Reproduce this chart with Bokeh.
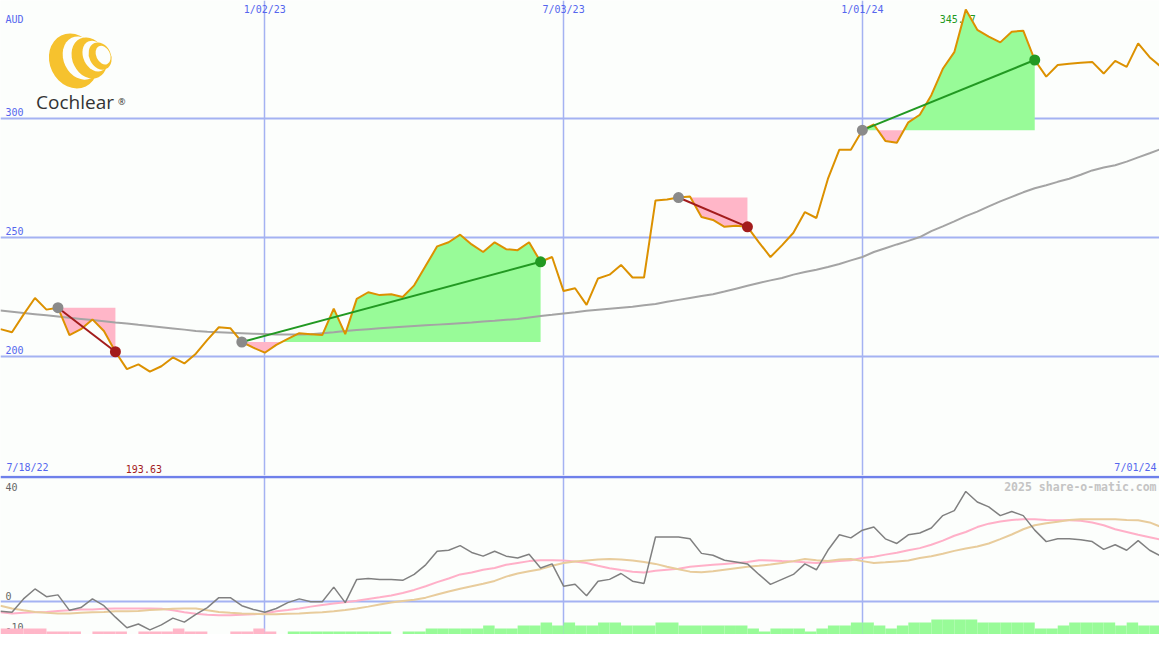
from datetime import datetime, timezone
import numpy as np
from bokeh.plotting import figure
from bokeh.models import Range1d, Grid, FixedTicker, Span
from bokeh.layouts import column
from bokeh.embed import file_html
from bokeh.resources import INLINE
from bokeh.core.properties import value

# ---------------- data ----------------
start_date = "2022-07-25"          # first weekly sample
end_date = "2024-06-30"            # right edge of the chart
currency = "AUD"
company = "Cochlear"
first_label = "7/18/22"
last_label = "7/01/24"
watermark = "2025 share-o-matic.com"

price = [211.5, 210.2, 217.6, 224.6, 219.7, 220.5, 209.0, 211.5, 215.6, 210.7,
         202.0, 194.7, 196.7, 193.63, 195.9, 199.6, 197.1, 201.2, 207.0, 212.3,
         211.9, 206.1, 203.7, 201.6, 204.9, 207.4, 209.8, 209.4, 209.0, 220.1,
         209.4, 224.2, 227.0, 225.8, 226.2, 225.0, 229.9, 238.1, 246.3, 248.0,
         251.2, 247.1, 243.9, 248.0, 245.1, 244.7, 248.0, 239.8, 241.8, 227.5,
         228.7, 221.7, 232.8, 234.4, 238.5, 233.2, 233.2, 265.6, 266.0, 266.8,
         267.2, 258.6, 257.4, 254.5, 254.9, 254.5, 248.0, 241.8, 246.7, 252.0,
         260.7, 258.2, 274.6, 286.9, 286.9, 295.1, 297.5, 290.6, 289.8, 298.4,
         301.6, 309.8, 320.9, 327.9, 345.77, 337.3, 334.4, 332.0, 336.5, 336.9,
         324.6, 317.6, 322.5, 323.0, 323.4, 323.8, 318.9, 324.2, 321.7, 331.6,
         325.8, 321.7]

ma40 = [219.3, 218.8, 218.3, 217.8, 217.3, 216.8, 216.3, 215.8, 215.3, 214.8,
        214.3, 213.9, 213.3, 212.8, 212.3, 211.8, 211.3, 210.7, 210.4, 210.2,
        210.0, 209.8, 209.6, 209.5, 209.3, 209.2, 209.2, 209.4, 209.8, 210.2,
        210.7, 211.1, 211.5, 211.9, 212.2, 212.5, 212.8, 213.1, 213.4, 213.7,
        214.0, 214.3, 214.7, 215.0, 215.4, 215.8, 216.4, 217.0, 217.5, 218.1,
        218.6, 219.2, 219.7, 220.1, 220.5, 220.9, 221.5, 222.1, 223.0, 223.8,
        224.6, 225.4, 226.2, 227.3, 228.5, 229.7, 230.9, 232.0, 233.0, 234.4,
        235.5, 236.5, 237.6, 238.9, 240.4, 241.8, 243.9, 245.5, 247.1, 248.6,
        250.2, 252.7, 254.7, 256.8, 259.0, 260.9, 263.1, 265.2, 267.1, 269.0,
        270.7, 272.0, 273.4, 274.7, 276.4, 278.2, 279.4, 280.4, 281.9, 283.7,
        285.4, 287.2]

momentum = [-3.1, -3.4, 0.9, 4.1, 1.6, 2.2, -2.8, -1.9, 0.9, -1.3,
            -5.0, -8.4, -7.2, -9.1, -7.5, -5.3, -6.6, -4.1, -1.9, 1.3,
            1.3, -1.3, -2.5, -3.4, -2.2, -0.3, 0.9, 0.0, 0.0, 4.7,
            -0.3, 7.2, 7.5, 7.2, 7.2, 6.9, 8.8, 11.9, 16.3, 16.6,
            18.1, 15.9, 14.7, 16.3, 14.7, 14.1, 15.3, 10.9, 12.2, 5.0,
            5.6, 1.9, 6.6, 7.2, 9.1, 6.6, 5.9, 20.9, 20.9, 20.9,
            20.3, 15.6, 15.0, 13.4, 12.8, 12.2, 8.8, 5.6, 7.2, 8.8,
            12.2, 10.3, 16.6, 21.6, 20.6, 23.1, 24.1, 20.3, 18.8, 21.6,
            22.2, 23.8, 27.8, 29.4, 35.6, 32.2, 30.6, 27.8, 29.1, 27.8,
            23.1, 19.4, 20.3, 20.3, 20.0, 19.4, 16.9, 18.4, 16.6, 19.7,
            16.6, 14.7]

mom_fast = [-3.4, -3.8, -3.6, -3.4, -3.3, -3.0, -2.8, -2.5, -2.5, -2.3,
            -2.2, -2.2, -2.2, -2.2, -2.3, -2.8, -3.4, -3.9, -4.2, -4.4,
            -4.4, -4.2, -4.1, -3.8, -3.1, -2.7, -2.2, -1.6, -1.1, -0.6,
            -0.2, 0.3, 0.9, 1.4, 2.0, 2.8, 3.8, 5.0, 6.3, 7.5,
            8.8, 9.4, 10.3, 10.9, 11.9, 12.5, 13.1, 13.4, 13.4, 13.3,
            13.0, 12.5, 11.6, 10.8, 10.2, 9.7, 9.4, 10.0, 10.3, 10.6,
            11.3, 11.6, 11.9, 12.2, 12.5, 12.8, 13.4, 13.3, 13.1, 13.0,
            12.7, 12.5, 12.8, 13.1, 13.4, 14.1, 14.5, 15.2, 15.8, 16.6,
            17.3, 18.4, 19.7, 21.3, 22.5, 24.1, 25.2, 25.9, 26.4, 26.6,
            26.6, 26.4, 26.3, 26.3, 26.1, 25.6, 24.7, 23.4, 22.5, 21.6,
            20.8, 20.0]

mom_slow = [-1.3, -2.2, -2.8, -3.3, -3.6, -3.8, -3.8, -3.6, -3.4, -3.3,
            -3.1, -3.1, -3.0, -2.7, -2.5, -2.3, -2.2, -2.2, -2.8, -3.3,
            -3.6, -3.8, -3.9, -4.1, -4.1, -3.9, -3.8, -3.6, -3.4, -3.1,
            -2.7, -2.2, -1.6, -0.9, -0.3, 0.2, 0.6, 1.3, 2.3, 3.3,
            4.2, 5.0, 5.8, 6.7, 8.1, 9.1, 9.8, 10.5, 11.6, 12.5,
            13.0, 13.3, 13.6, 13.8, 13.6, 13.3, 12.8, 12.2, 11.3, 10.5,
            9.7, 9.5, 9.8, 10.3, 10.8, 11.3, 11.6, 12.0, 12.5, 13.1,
            13.8, 13.4, 13.1, 13.6, 13.8, 13.1, 12.5, 12.7, 13.0, 13.3,
            14.1, 14.7, 15.5, 16.4, 17.2, 17.8, 18.8, 20.2, 21.7, 23.4,
            24.7, 25.3, 25.8, 26.4, 26.6, 26.6, 26.6, 26.6, 26.4, 26.3,
            25.6, 24.1]

# weekly signal strength (negative = bearish/pink, positive = bullish/green)
signal = [-2, -2, -2, -2, -1, -1, -1, 0, -1, -1,
          -1, 0, -1, -1, -1, -2, -1, -1, 0, 0,
          -1, -1, -2, -1, 0, 1, 1, 1, 1, 1,
          1, 1, 1, 1, 0, 1, 1, 2, 2, 2,
          2, 2, 3, 2, 2, 3, 3, 4, 3, 4,
          3, 3, 4, 4, 3, 3, 3, 4, 4, 3,
          3, 3, 3, 3, 3, 2, 1, 2, 2, 2,
          1, 2, 3, 3, 4, 4, 3, 2, 3, 4,
          4, 5, 5, 5, 5, 4, 4, 4, 4, 4,
          2, 2, 3, 4, 4, 4, 4, 3, 4, 3,
          3, 3]

# trades: (entry week index, exit week index)
trades = [(5, 10), (21, 47), (59, 65), (75, 90)]

tick_dates = ["2023-01-02", "2023-07-03", "2024-01-01"]
tick_labels = ["1/02/23", "7/03/23", "1/01/24"]
price_ticks = [200, 250, 300]
osc_ticks = [0]
osc_labels = ["40", "0", "-10"]
osc_label_vals = [40.3, 0, -10]

# ---------------- styles ----------------
BG = "#fcfefc"
GRID = "#a4b2f2"
SEP = "#6e80ea"
LABEL = "#5566ee"
PRICE = "#dc9100"
MA = "#a4a4a4"
PINK = "#ffb6c8"
GREEN = "#98fb98"
WIN = "#229922"
LOSS = "#a31c1c"
ENTRY = "#8a8a8a"
MOM = "#808080"
FAST = "#ffb0c8"
SLOW = "#e8cc9c"
YELLOW = "#f6c22e"
MONO = value("DejaVu Sans Mono")

W = 1159
H1 = 475
H2 = 159


def ms(s):
    return datetime.fromisoformat(s).replace(tzinfo=timezone.utc).timestamp() * 1000.0


WEEK = 7 * 86400000.0
xs = [ms(start_date) + i * WEEK for i in range(len(price))]
x0, x1 = ms(start_date), ms(end_date)
tick_ms = [ms(d) for d in tick_dates]

ylo, yhi = 150.0, 349.6
xr = Range1d(x0, x1)

# ---------------- main panel ----------------
p = figure(width=W, height=H1, x_range=xr, y_range=Range1d(ylo, yhi),
           x_axis_type=None, y_axis_type=None, output_backend="svg",
           toolbar_location=None, min_border=0, background_fill_color=BG,
           border_fill_color=BG, outline_line_color=None)
p.extra_x_ranges = {"px": Range1d(0, 1175)}
p.extra_y_ranges = {"px": Range1d(487, 0)}

p.add_layout(Grid(dimension=0, ticker=FixedTicker(ticks=tick_ms),
                  grid_line_color=GRID, grid_line_width=1.5))
p.add_layout(Grid(dimension=1, ticker=FixedTicker(ticks=price_ticks),
                  grid_line_color=GRID, grid_line_width=2))

# logo (decoration)
rings = [((74, 62, 48, 58), (82, 59, 36, 46)),
         ((90, 59, 34, 44), (96, 57, 24, 33)),
         ((101, 57, 22, 29), (104, 56, 14, 20))]
for outer, inner in rings:
    p.ellipse(x=[outer[0]], y=[outer[1]], width=outer[2], height=outer[3], angle=0.45,
              fill_color=YELLOW, line_color=None, x_range_name="px", y_range_name="px")
    p.ellipse(x=[inner[0]], y=[inner[1]], width=inner[2], height=inner[3], angle=0.45,
              fill_color=BG, line_color=None, x_range_name="px", y_range_name="px")
p.text(x=[36], y=[104], text=[company], text_font=value("Open Sans"), text_font_size="19px",
       text_color="#333333", text_baseline="middle", x_range_name="px", y_range_name="px")
p.text(x=[119], y=[104], text=["\u00ae"], text_font=value("Open Sans"), text_font_size="9px",
       text_color="#333333", text_baseline="middle", x_range_name="px", y_range_name="px")

# labels
p.text(x=[x0], y=[yhi], text=[currency], x_offset=5, y_offset=13, text_font=MONO,
       text_font_size="10px", text_color=LABEL, text_baseline="top")
p.text(x=[x0] * len(price_ticks), y=price_ticks, text=[str(v) for v in price_ticks],
       x_offset=5, y_offset=-3, text_font=MONO, text_font_size="10px", text_color=LABEL,
       text_baseline="bottom")
p.text(x=tick_ms, y=[yhi] * len(tick_ms), text=tick_labels, y_offset=3, text_font=MONO,
       text_font_size="10px", text_color=LABEL, text_baseline="top", text_align="center")
p.text(x=[x0], y=[ylo], text=[first_label], x_offset=6, y_offset=-3, text_font=MONO,
       text_font_size="10px", text_color=LABEL, text_baseline="bottom")
p.text(x=[x1], y=[ylo], text=[last_label], x_offset=-3, y_offset=-3, text_font=MONO,
       text_font_size="10px", text_color=LABEL, text_baseline="bottom", text_align="right")

imin = int(np.argmin(price))
imax = int(np.argmax(price))
p.text(x=[xs[imin]], y=[ylo], text=[f"{price[imin]:.2f}"], x_offset=-6, y_offset=-3,
       text_font=MONO, text_font_size="10px", text_color=LOSS, text_baseline="bottom",
       text_align="center")
p.text(x=[xs[imax]], y=[yhi], text=[f"{price[imax]:.2f}"], x_offset=-8, y_offset=14,
       text_font=MONO, text_font_size="10px", text_color=WIN, text_baseline="top",
       text_align="center")

# trade fills
for a, b in trades:
    L = price[a]
    fx, fy = [], []
    for k in range(a, b + 1):
        if k > a:
            p0, p1 = price[k - 1], price[k]
            if (p0 - L) * (p1 - L) < 0:
                t = (L - p0) / (p1 - p0)
                fx.append(xs[k - 1] + t * (xs[k] - xs[k - 1]))
                fy.append(L)
        fx.append(xs[k])
        fy.append(price[k])
    fy = np.array(fy)
    lev = np.full(len(fy), L)
    p.varea(x=fx, y1=np.minimum(fy, L), y2=lev, fill_color=PINK)
    p.varea(x=fx, y1=lev, y2=np.maximum(fy, L), fill_color=GREEN)

p.line(xs, ma40, line_color=MA, line_width=2)
p.line(xs, price, line_color=PRICE, line_width=2)

for a, b in trades:
    col = WIN if price[b] > price[a] else LOSS
    p.line([xs[a], xs[b]], [price[a], price[b]], line_color=col, line_width=2)
    p.scatter([xs[a]], [price[a]], size=11, fill_color=ENTRY, line_color=None)
    p.scatter([xs[b]], [price[b]], size=11, fill_color=col, line_color=None)

# ---------------- oscillator panel ----------------
olo, ohi = -10.6, 40.75
p2 = figure(width=W, height=H2, x_range=xr, y_range=Range1d(olo, ohi),
            x_axis_type=None, y_axis_type=None, output_backend="svg",
            toolbar_location=None, min_border=0, background_fill_color=BG,
            border_fill_color=BG, outline_line_color=None)
p2.extra_y_ranges = {"bars": Range1d(0, H2 / 3.0)}
p2.add_layout(Grid(dimension=0, ticker=FixedTicker(ticks=tick_ms),
                   grid_line_color=GRID, grid_line_width=1.5))
p2.add_layout(Grid(dimension=1, ticker=FixedTicker(ticks=osc_ticks),
                   grid_line_color=GRID, grid_line_width=2))
p2.add_layout(Span(location=osc_label_vals[0], dimension="width", line_color=SEP,
                   line_width=2.5))

p2.text(x=[x0], y=[osc_label_vals[0]], text=[osc_labels[0]], x_offset=5, y_offset=6,
        text_font=MONO, text_font_size="10px", text_color="#666666", text_baseline="top")
p2.text(x=[x0, x0], y=osc_label_vals[1:], text=osc_labels[1:], x_offset=5, y_offset=-2,
        text_font=MONO, text_font_size="10px", text_color="#666666", text_baseline="bottom")
p2.text(x=[x1], y=[osc_label_vals[0]], text=[watermark], x_offset=-3, y_offset=3,
        text_font=MONO, text_font_size="11.5px", text_font_style="bold",
        text_color="#c4c4c4", text_baseline="top", text_align="right")

bx = [x + WEEK / 2 for x in xs]
p2.vbar(x=bx, width=WEEK, bottom=0, top=[abs(s) for s in signal],
        fill_color=[PINK if s < 0 else GREEN for s in signal], line_color=None,
        y_range_name="bars")

p2.line(xs, mom_fast, line_color=FAST, line_width=2)
p2.line(xs, mom_slow, line_color=SLOW, line_width=2)
p2.line(xs, momentum, line_color=MOM, line_width=1.5)

layout = column(p, p2, spacing=0)
open("out.html", "w").write(file_html(layout, INLINE))
